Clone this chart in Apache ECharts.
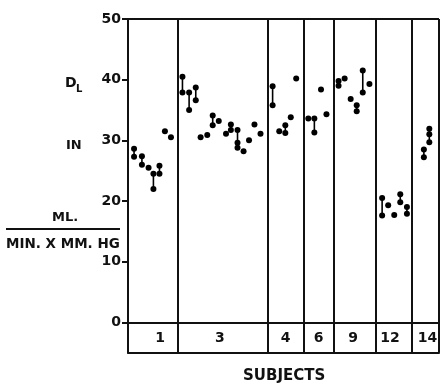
<!DOCTYPE html>
<html>
<head>
<meta charset="utf-8">
<script src="https://cdn.jsdelivr.net/npm/echarts@6/dist/echarts.min.js"></script>
<style>html,body{margin:0;padding:0;background:#fff}#c{width:440px;height:383px}</style>
</head>
<body>
<div id="c"></div>
<script>
// ---- data ----
const subjects = ['1', '3', '4', '6', '9', '12', '14'];
// subject block boundaries along the session axis
const boundaries = [0, 8.3, 23.1, 29.0, 34.05, 41.0, 46.9, 51.4];
// each observation: [session position, value(s) of DL]
const subj1 = [[1.0, 28.6, 27.3], [2.3, 27.4, 26.0], [3.4, 25.5], [4.2, 24.5, 22.0], [5.2, 25.8, 24.5], [6.1, 31.5], [7.1, 30.5]];
const subj3 = [[9.0, 40.5, 37.9], [10.1, 37.9, 35.0], [11.2, 38.7, 36.6], [12.0, 30.5], [13.1, 30.9], [14.0, 34.1, 32.5], [15.0, 33.2], [16.2, 31.1], [17.0, 32.6, 31.7], [18.1, 31.7, 29.6, 28.8], [19.1, 28.2], [20.0, 30.0], [20.9, 32.6], [21.9, 31.1]];
const subj4 = [[23.9, 38.9, 35.8], [25.0, 31.5], [26.0, 32.5, 31.2], [26.9, 33.8], [27.8, 40.2]];
const subj6 = [[29.8, 33.6], [30.8, 33.6, 31.3], [31.9, 38.4], [32.8, 34.3]];
const subj9 = [[34.8, 39.8, 39.0], [35.8, 40.2], [36.8, 36.8], [37.8, 35.8, 34.8], [38.8, 41.5, 37.9], [39.9, 39.3]];
const subj12 = [[42.0, 20.5, 17.6], [43.0, 19.3], [44.0, 17.7], [45.0, 21.1, 19.8], [46.1, 19.0, 17.9]];
const subj14 = [[48.9, 28.5, 27.2], [49.8, 31.9, 31.0, 29.7]];
const yTicks = [0, 10, 20, 30, 40, 50];

// ---- layout / style ----
const labelOffsetPx = [7, -3, 0, 0, -2, -4, 2];
const FONT = 'DejaVu Sans';
const INK = '#111';

const allObs = [].concat(subj1, subj3, subj4, subj6, subj9, subj12, subj14);
const points = [];
const ranges = [];
allObs.forEach(o => {
  const vals = o.slice(1);
  vals.forEach(v => points.push([o[0], v]));
  if (vals.length > 1) ranges.push([o[0], Math.min(...vals), Math.max(...vals)]);
});
const labelData = subjects.map((s, i) => ({
  name: s,
  value: [(boundaries[i] + boundaries[i + 1]) / 2, -2.6],
  label: { offset: [labelOffsetPx[i], 0] }
}));

const chart = echarts.init(document.getElementById('c'), null, { renderer: 'canvas' });
chart.setOption({
  animation: false,
  backgroundColor: '#fff',
  grid: { left: 128, right: 1, top: 19, bottom: 30.25, containLabel: false },
  xAxis: {
    type: 'value', min: 0, max: boundaries[boundaries.length - 1],
    axisLine: { show: true, onZero: false, lineStyle: { color: INK, width: 2 } },
    axisTick: { show: false }, axisLabel: { show: false }, splitLine: { show: false }
  },
  yAxis: {
    type: 'value', min: -5, max: 50, interval: 5,
    axisLine: { show: true, onZero: false, lineStyle: { color: INK, width: 2 } },
    axisTick: { show: true, length: 6, lineStyle: { color: INK, width: 2 }, customValues: yTicks },
    axisLabel: { color: INK, fontFamily: FONT, fontWeight: 'bold', fontSize: 14, margin: 7, customValues: yTicks },
    splitLine: { show: false }
  },
  series: [
    {
      type: 'scatter', data: points, symbolSize: 6, itemStyle: { color: '#000', opacity: 1 }, z: 5,
      markLine: {
        silent: true, symbol: 'none', label: { show: false },
        lineStyle: { color: INK, width: 2, type: 'solid', opacity: 1 },
        data: boundaries.slice(1).map(b => ({ xAxis: b })).concat([{ yAxis: 0 }, { yAxis: 50 }])
      }
    },
    {
      type: 'custom', data: ranges, z: 4,
      renderItem: function (params, api) {
        const p1 = api.coord([api.value(0), api.value(1)]);
        const p2 = api.coord([api.value(0), api.value(2)]);
        return { type: 'line', shape: { x1: p1[0], y1: p1[1], x2: p2[0], y2: p2[1] }, style: { stroke: '#000', lineWidth: 1.6 } };
      }
    },
    {
      type: 'scatter', data: labelData, symbolSize: 0, silent: true, itemStyle: { color: INK, opacity: 1 },
      label: { show: true, position: 'inside', formatter: '{b}', color: INK, opacity: 1, textBorderWidth: 0, fontFamily: FONT, fontWeight: 'bold', fontSize: 14 }
    }
  ],
  graphic: [
    { type: 'text', left: 65, top: 76, style: { text: 'D', font: 'bold 14px ' + FONT, fill: INK } },
    { type: 'text', left: 76, top: 84, style: { text: 'L', font: 'bold 10px ' + FONT, fill: INK } },
    { type: 'text', left: 66, top: 139, style: { text: 'IN', font: 'bold 13px ' + FONT, fill: INK } },
    { type: 'text', left: 52, top: 211, style: { text: 'ML.', font: 'bold 13px ' + FONT, fill: INK } },
    { type: 'line', shape: { x1: 6, y1: 229, x2: 120, y2: 229 }, style: { stroke: INK, lineWidth: 2 } },
    { type: 'text', left: 6, top: 237, style: { text: 'MIN. X MM. HG', font: 'bold 13.5px ' + FONT, fill: INK } },
    { type: 'text', left: 243, top: 369, style: { text: 'SUBJECTS', font: 'bold 15px ' + FONT, fill: INK } }
  ]
});
</script>
</body>
</html>
